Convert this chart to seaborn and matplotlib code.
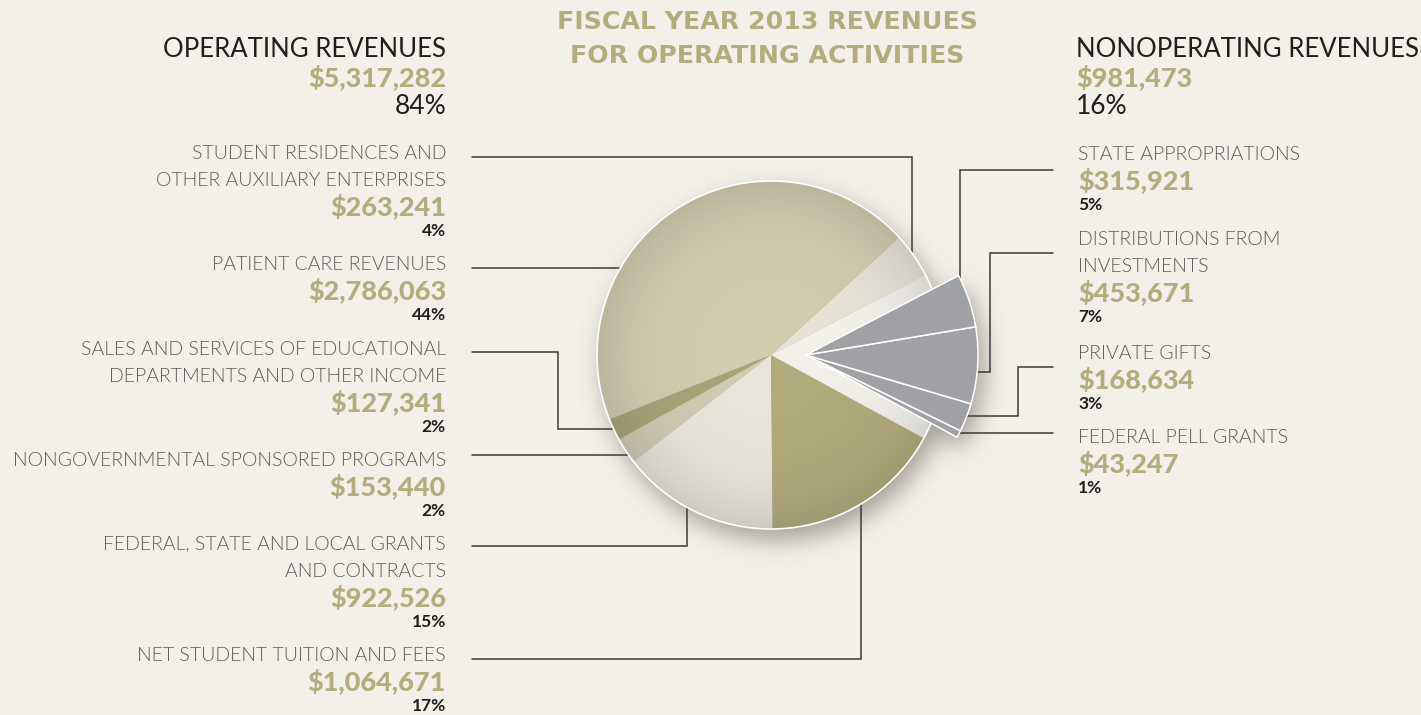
import numpy as np
import matplotlib
matplotlib.use("Agg")
import matplotlib.pyplot as plt
from matplotlib.patches import Circle
import seaborn as sns

# ---- data ----
op_labels = ["STUDENT RESIDENCES AND\nOTHER AUXILIARY ENTERPRISES",
             "PATIENT CARE REVENUES",
             "SALES AND SERVICES OF EDUCATIONAL\nDEPARTMENTS AND OTHER INCOME",
             "NONGOVERNMENTAL SPONSORED PROGRAMS",
             "FEDERAL, STATE AND LOCAL GRANTS\nAND CONTRACTS",
             "NET STUDENT TUITION AND FEES"]
op_values = [263241, 2786063, 127341, 153440, 922526, 1064671]

# listed counter-clockwise as they sit in the pie (bottom to top)
nonop_labels = ["FEDERAL PELL GRANTS", "PRIVATE GIFTS",
                "DISTRIBUTIONS FROM\nINVESTMENTS", "STATE APPROPRIATIONS"]
nonop_values = [43247, 168634, 453671, 315921]

title = "FISCAL YEAR 2013 REVENUES\nFOR OPERATING ACTIVITIES"

# ---- style ----
W, H = 1421, 715
BG = "#F3F0EA"
OLIVE = "#B3AC7E"
op_colors = ["#E7E4D6", "#D3CBB0", "#A9A277", "#D0CAB2", "#E8E5D9", "#B1AA7A"]
GAP = "#F2F0E9"
GRAY = "#A0A1A5"
LINE = "#3a3a3a"

CX, CY, R = 771, 355, 174          # main pie, pixel coords (y down)
GX, GR = 806, 172                  # pulled-out nonoperating group
START = 27.5

sns.set_theme(style="white")
plt.rcParams["font.family"] = ["Lato", "DejaVu Sans"]


def Y(py):
    return H - py


fig = plt.figure(figsize=(W / 100, H / 100), dpi=100, facecolor=BG)
ax = fig.add_axes([0, 0, 1, 1])
ax.set_facecolor(BG)

total = sum(op_values) + sum(nonop_values)
op_total, nonop_total = sum(op_values), sum(nonop_values)

# ---- drop shadow (union of pie + pulled-out wedges, blurred) ----
x0, x1, y0, y1 = 540, 1070, 140, 610
xs, ys = np.meshgrid(np.arange(x0, x1) + 0.5, np.arange(y0, y1) + 0.5)
sx, sy = 6, 11
d_main = np.hypot(xs - CX - sx, ys - CY - sy)
mask = (d_main <= R).astype(float)
gang = np.degrees(np.arctan2(-(ys - CY - sy), xs - GX - sx))
gap_lo = START + 360 * op_total / total - 360
sector = (np.hypot(xs - GX - sx, ys - CY - sy) <= GR) & (gang >= gap_lo) & (gang <= START)
mask = np.maximum(mask, sector.astype(float))
sig = 12
k = np.exp(-0.5 * (np.arange(-3 * sig, 3 * sig + 1) / sig) ** 2)
k /= k.sum()
blur = np.apply_along_axis(lambda r: np.convolve(r, k, mode="same"), 1, mask)
blur = np.apply_along_axis(lambda c: np.convolve(c, k, mode="same"), 0, blur)
shadow = np.zeros(blur.shape + (4,))
shadow[..., :3] = np.array([0.33, 0.31, 0.27])
shadow[..., 3] = 0.5 * blur
ax.imshow(shadow, extent=(x0, x1, Y(y1), Y(y0)), origin="upper", zorder=1,
          interpolation="bilinear")

# ---- main pie (operating + empty gap for nonoperating) ----
wedges, _ = ax.pie(op_values + [nonop_total], colors=op_colors + [GAP],
                   startangle=START, counterclock=True, center=(CX, Y(CY)), radius=R,
                   wedgeprops=dict(linewidth=0, zorder=3), frame=True)

# radial shading over the main disc
gx0, gx1, gy0, gy1 = CX - R, CX + R, CY - R, CY + R
gxs, gys = np.meshgrid(np.linspace(gx0, gx1, 400), np.linspace(gy0, gy1, 400))
dd = np.clip(np.hypot(gxs - CX, gys - CY) / R, 0, 1)
shade = np.zeros(dd.shape + (4,))
shade[..., :3] = 0.25
shade[..., 3] = 0.16 * dd ** 4
clip = Circle((CX, Y(CY)), R, transform=ax.transData)
im = ax.imshow(shade, extent=(gx0, gx1, Y(gy1), Y(gy0)), origin="upper", zorder=4)
im.set_clip_path(clip)
ax.add_patch(Circle((CX, Y(CY)), R, fill=False, edgecolor="white", linewidth=1.2, zorder=5))

# ---- pulled-out nonoperating wedges ----
gw, _ = ax.pie([op_total] + nonop_values, colors=["none"] + [GRAY] * 4,
               startangle=START, counterclock=True, center=(GX, Y(CY)), radius=GR,
               wedgeprops=dict(linewidth=1.1, edgecolor="white", zorder=6), frame=True)
gw[0].set_visible(False)

ax.set_xlim(0, W)
ax.set_ylim(0, H)
ax.set_aspect("equal")
ax.axis("off")

# wedge angle ranges (degrees, counter-clockwise from START)
bounds = START + 360 * np.concatenate([[0], np.cumsum(op_values + nonop_values)]) / total
op_ranges = [(bounds[i], bounds[i + 1]) for i in range(len(op_values))]
nonop_ranges = [(bounds[i], bounds[i + 1]) for i in range(len(op_values), len(bounds) - 1)]


def edge_pt(cx, r, ang):
    a = np.radians(ang)
    return cx + r * np.cos(a), CY - r * np.sin(a)


def connector(cx, r, rng, kind, ly, x_start, elbow=None, frac=0.5):
    if kind == "B":  # straight into the pie edge
        side = 1 if x_start > cx else -1
        ex = cx + side * np.sqrt(r ** 2 - (ly - CY) ** 2)
        px, py = [x_start, ex], [ly, ly]
    else:
        ax_, ay_ = edge_pt(cx, r, rng[0] + frac * (rng[1] - rng[0]))
        if kind == "A":
            px, py = [x_start, ax_, ax_], [ly, ly, ay_]
        else:
            px, py = [x_start, elbow, elbow, ax_], [ly, ly, ay_, ay_]
    ax.plot(px, [Y(v) for v in py], color=LINE, lw=1.1, zorder=2, solid_joinstyle="miter")


# ---- connectors ----
op_conn = [("A", 157, None, 0.55), ("B", 268, None, 0.5), ("C", 352, 558, 0.45),
           ("B", 455, None, 0.5), ("A", 546, None, 0.44), ("A", 659, None, 0.5)]
nonop_conn = [("B", 433, None, 0.5), ("C", 367, 1018, 0.54),
              ("C", 253, 990, 0.42), ("A", 170, None, 0.94)]
for rng, (kind, ly, el, fr) in zip(op_ranges, op_conn):
    connector(CX, R, rng, kind, ly, 472, el, fr)
for rng, (kind, ly, el, fr) in zip(nonop_ranges, nonop_conn):
    connector(GX, GR, rng, kind, ly, 1053, el, fr)

# ---- text ----
for i, line in enumerate(title.split("\n")):
    ax.text(767, Y(29 + i * 34), line, ha="center", va="baseline", color=OLIVE,
            fontsize=18.2, fontweight="bold", family=["DejaVu Sans"])


def pct(v):
    return f"{round(100 * v / total)}%"


def heading(x, ha, name, value):
    ax.text(x, Y(57), name, ha=ha, va="baseline", color="#1e1e1e", fontsize=18.5)
    ax.text(x, Y(86), f"${value:,}", ha=ha, va="baseline", color=OLIVE,
            fontsize=19.5, fontweight="black")
    ax.text(x, Y(114), pct(value), ha=ha, va="baseline", color="#1e1e1e", fontsize=19)


def block(x, ha, label, value, b):
    lines = label.split("\n")
    for j, ln in enumerate(lines):
        ax.text(x, Y(b + 27 * j), ln, ha=ha, va="baseline", color="#5a5a5a",
                fontsize=14, fontweight=300)
    vb = b + 27 * (len(lines) - 1) + 29
    ax.text(x, Y(vb), f"${value:,}", ha=ha, va="baseline", color=OLIVE,
            fontsize=19.5, fontweight="black")
    ax.text(x, Y(vb + 21), pct(value), ha=ha, va="baseline", color="#1e1e1e",
            fontsize=12.5, fontweight="bold")


heading(446, "right", "OPERATING REVENUES", op_total)
heading(1076, "left", "NONOPERATING REVENUES", nonop_total)

op_base = [159, 270, 355, 466, 550, 661]
nonop_base = [443, 359, 245, 160]
for lab, val, b in zip(op_labels, op_values, op_base):
    block(446, "right", lab, val, b)
for lab, val, b in zip(nonop_labels, nonop_values, nonop_base):
    block(1078, "left", lab, val, b)

fig.savefig("out.png", dpi=100, facecolor=BG)
